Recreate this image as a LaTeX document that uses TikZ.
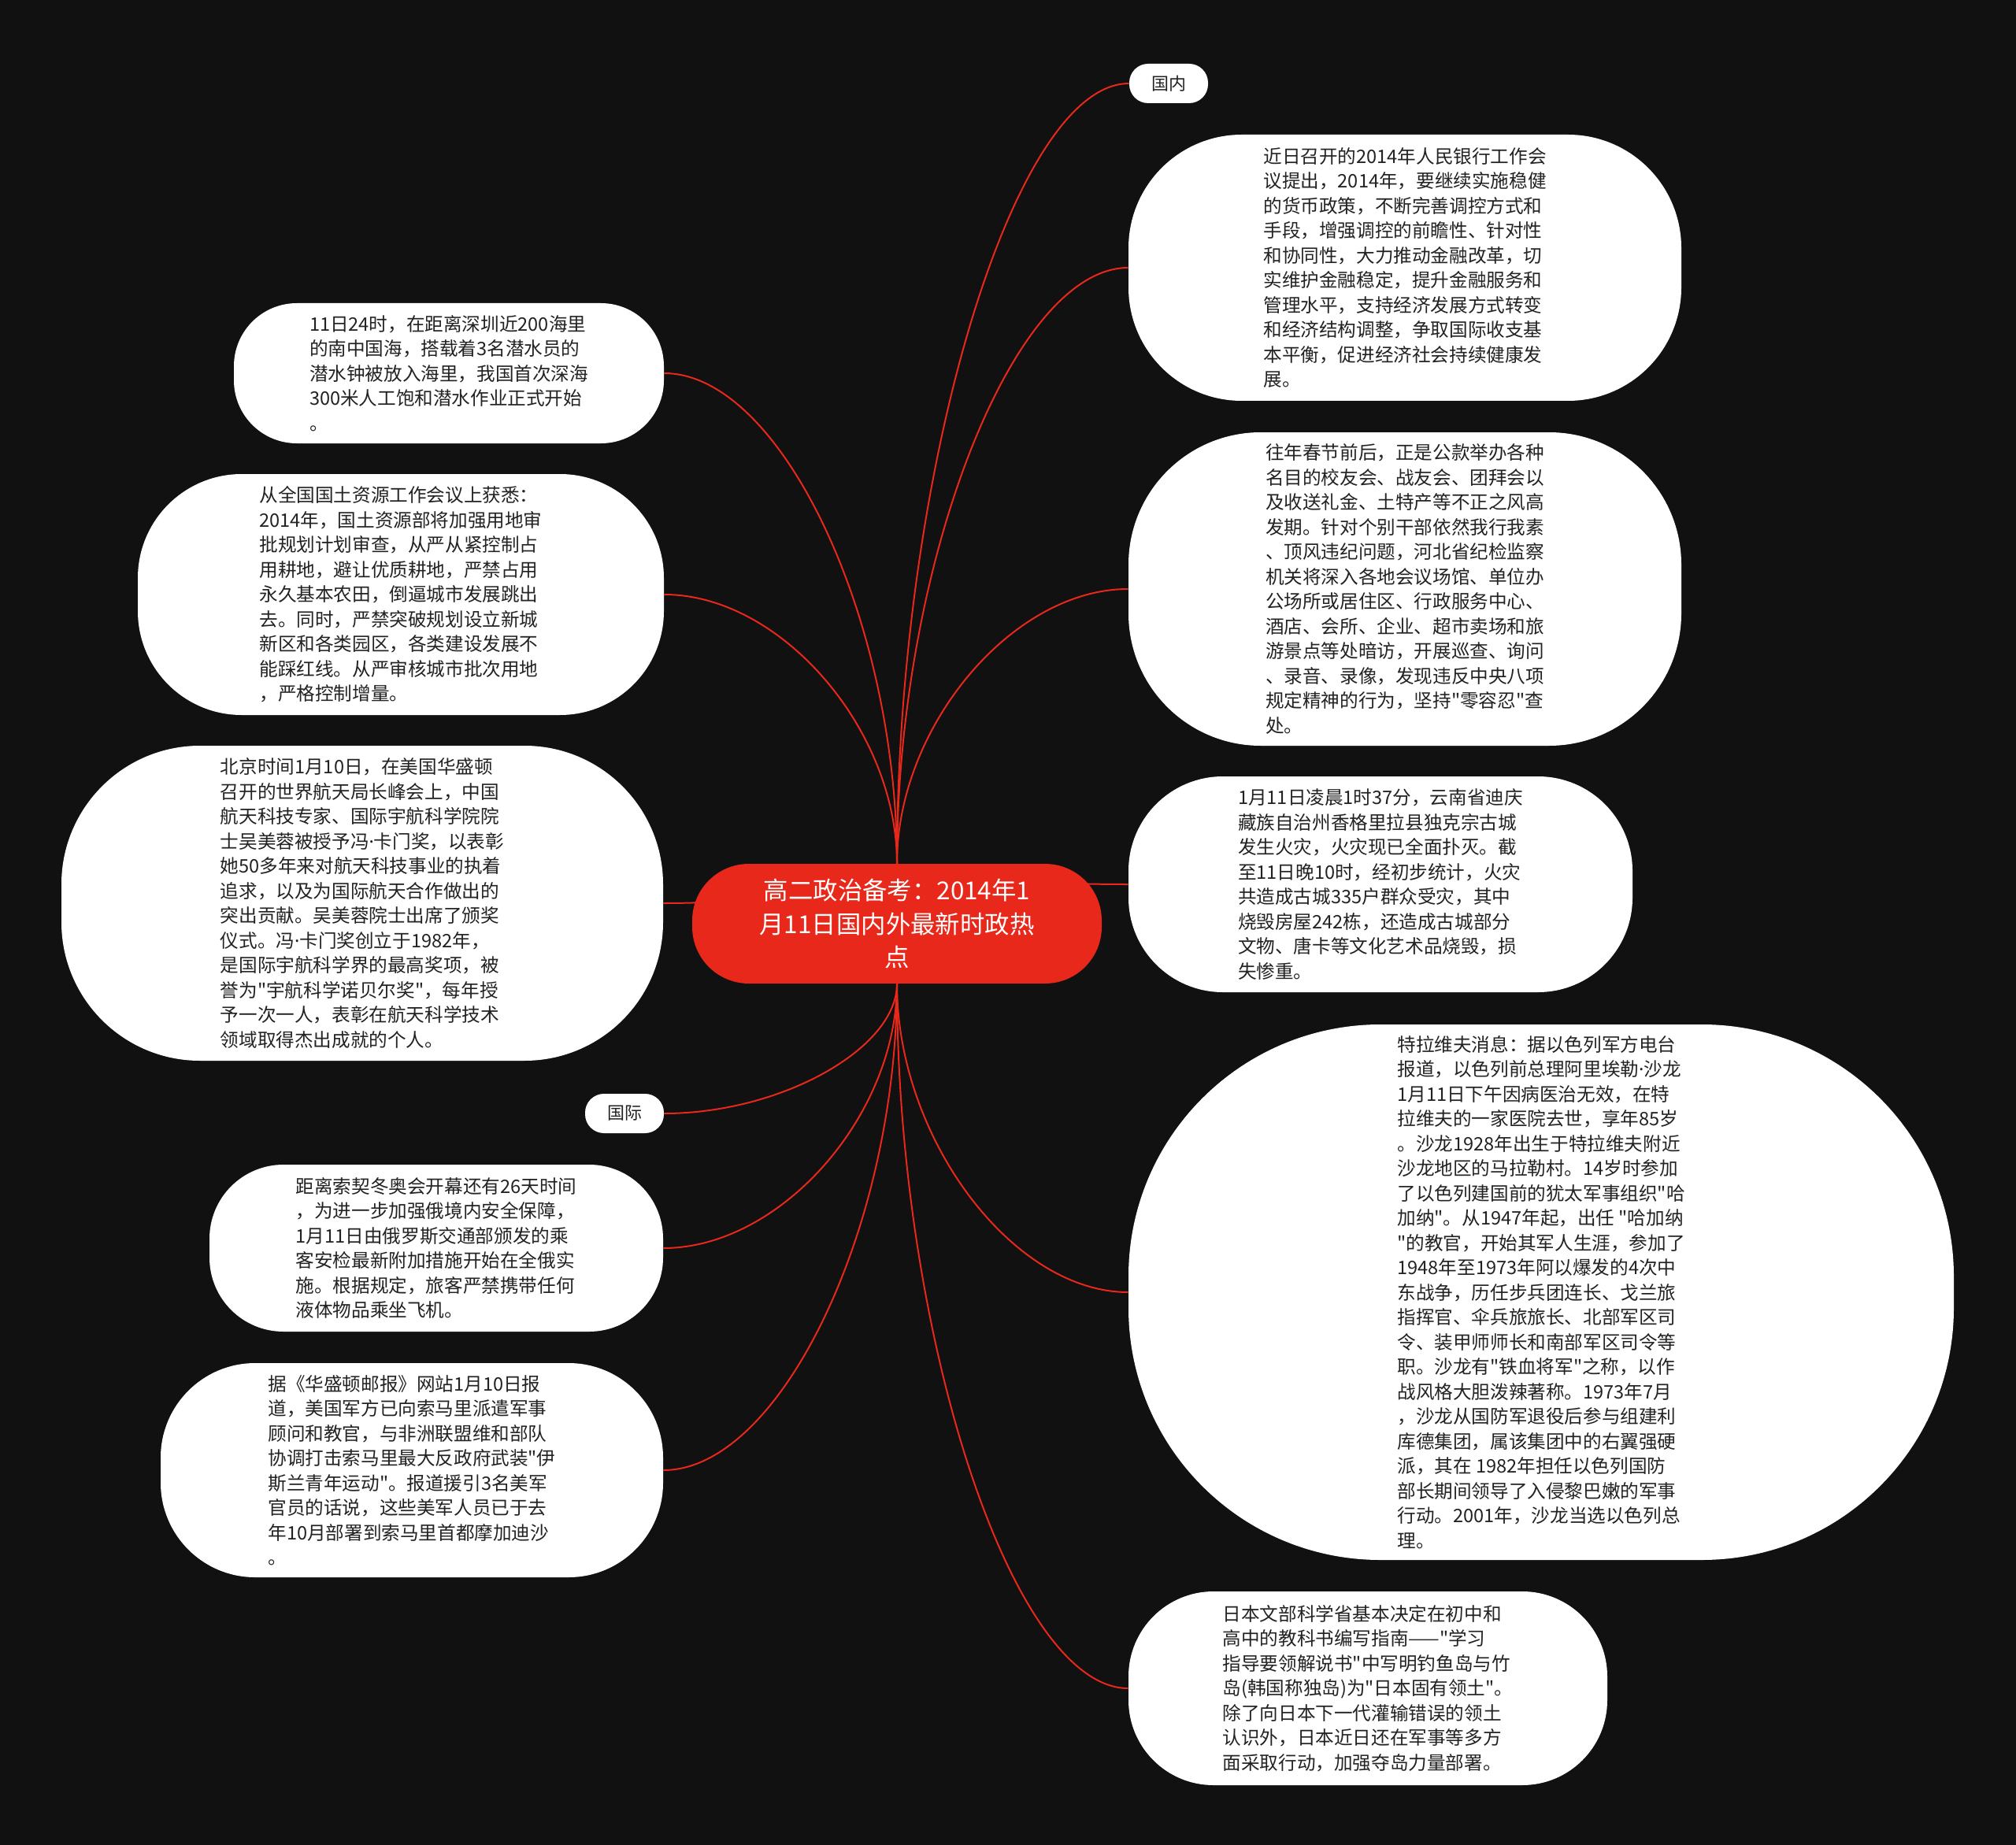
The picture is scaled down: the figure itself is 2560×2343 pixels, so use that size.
\documentclass[tikz,border=0pt]{standalone}
\usepackage{fontspec}
\newfontfamily\cjkfont{Noto Sans CJK SC}
\newfontfamily\latinfont{Noto Sans}
\usetikzlibrary{backgrounds, calc}
\definecolor{canvas}{RGB}{17,17,17}
\definecolor{hotred}{RGB}{232,40,26}
\definecolor{inktext}{RGB}{34,34,34}
\newcommand\middotsign{{\latinfont ·}}

\begin{document}
\begin{tikzpicture}[
    x=0.5pt, y=-0.5pt,
    topic/.style={rectangle, fill=hotred, text=white, align=center, inner sep=0pt, rounded corners=36pt, font=\cjkfont\fontsize{15.7pt}{21.2pt}\selectfont},
    leaf/.style={rectangle, fill=white, text=inktext, align=left, inner sep=0pt, rounded corners=#1, font=\cjkfont\fontsize{11.8pt}{15.75pt}\selectfont},
    tag/.style={rectangle, fill=white, text=inktext, inner sep=0pt, rounded corners=12pt, minimum width=50pt, minimum height=25pt, font=\cjkfont\fontsize{11pt}{13pt}\selectfont},
    branch/.style={draw=hotred, line width=1pt}
]
\useasboundingbox (0,0) rectangle (2560,2343);

% Centre
\node[topic, minimum width=260pt, minimum height=76pt] (topic) at (1139,1173) {高二政治备考：2014年1\\月11日国内外最新时政热\\点};

% Right side
\node[tag] (dom) at (1484,106) {国内};
\node[leaf=72pt, minimum width=351pt, minimum height=169pt] (bank) at (1784,340) {近日召开的2014年人民银行工作会\\议提出，2014年，要继续实施稳健\\的货币政策，不断完善调控方式和\\手段，增强调控的前瞻性、针对性\\和协同性，大力推动金融改革，切\\实维护金融稳定，提升金融服务和\\管理水平，支持经济发展方式转变\\和经济结构调整，争取国际收支基\\本平衡，促进经济社会持续健康发\\展。};
\node[leaf=84pt, minimum width=351pt, minimum height=199pt] (feast) at (1784,748) {往年春节前后，正是公款举办各种\\名目的校友会、战友会、团拜会以\\及收送礼金、土特产等不正之风高\\发期。针对个别干部依然我行我素\\、顶风违纪问题，河北省纪检监察\\机关将深入各地会议场馆、单位办\\公场所或居住区、行政服务中心、\\酒店、会所、企业、超市卖场和旅\\游景点等处暗访，开展巡查、询问\\、录音、录像，发现违反中央八项\\规定精神的行为，坚持"零容忍"查\\处。};
\node[leaf=60pt, minimum width=320pt, minimum height=137pt] (fire) at (1753,1123) {1月11日凌晨1时37分，云南省迪庆\\藏族自治州香格里拉县独克宗古城\\发生火灾，火灾现已全面扑灭。截\\至11日晚10时，经初步统计，火灾\\共造成古城335户群众受灾，其中\\烧毁房屋242栋，还造成古城部分\\文物、唐卡等文化艺术品烧毁，损\\失惨重。};
\node[leaf=160pt, minimum width=524pt, minimum height=340pt] (sharon) at (1957,1641) {特拉维夫消息：据以色列军方电台\\报道，以色列前总理阿里埃勒\middotsign 沙龙\\1月11日下午因病医治无效，在特\\拉维夫的一家医院去世，享年85岁\\。沙龙1928年出生于特拉维夫附近\\沙龙地区的马拉勒村。14岁时参加\\了以色列建国前的犹太军事组织"哈\\加纳"。从1947年起，出任 "哈加纳\\"的教官，开始其军人生涯，参加了\\1948年至1973年阿以爆发的4次中\\东战争，历任步兵团连长、戈兰旅\\指挥官、伞兵旅旅长、北部军区司\\令、装甲师师长和南部军区司令等\\职。沙龙有"铁血将军"之称，以作\\战风格大胆泼辣著称。1973年7月\\，沙龙从国防军退役后参与组建利\\库德集团，属该集团中的右翼强硬\\派，其在 1982年担任以色列国防\\部长期间领导了入侵黎巴嫩的军事\\行动。2001年，沙龙当选以色列总\\理。};
\node[leaf=54pt, minimum width=304pt, minimum height=123pt] (japan) at (1737,2144) {日本文部科学省基本决定在初中和\\高中的教科书编写指南——"学习\\指导要领解说书"中写明钓鱼岛与竹\\岛(韩国称独岛)为"日本固有领土"。\\除了向日本下一代灌输错误的领土\\认识外，日本近日还在军事等多方\\面采取行动，加强夺岛力量部署。};

% Left side
\node[leaf=40pt, minimum width=273pt, minimum height=89pt] (dive) at (570,474) {11日24时，在距离深圳近200海里\\的南中国海，搭载着3名潜水员的\\潜水钟被放入海里，我国首次深海\\300米人工饱和潜水作业正式开始\\。};
\node[leaf=66pt, minimum width=334pt, minimum height=153pt] (land) at (509,755) {从全国国土资源工作会议上获悉：\\2014年，国土资源部将加强用地审\\批规划计划审查，从严从紧控制占\\用耕地，避让优质耕地，严禁占用\\永久基本农田，倒逼城市发展跳出\\去。同时，严禁突破规划设立新城\\新区和各类园区，各类建设发展不\\能踩红线。从严审核城市批次用地\\，严格控制增量。};
\node[leaf=88pt, minimum width=382pt, minimum height=200pt] (award) at (460,1147) {北京时间1月10日，在美国华盛顿\\召开的世界航天局长峰会上，中国\\航天科技专家、国际宇航科学院院\\士吴美蓉被授予冯\middotsign 卡门奖，以表彰\\她50多年来对航天科技事业的执着\\追求，以及为国际航天合作做出的\\突出贡献。吴美蓉院士出席了颁奖\\仪式。冯\middotsign 卡门奖创立于1982年，\\是国际宇航科学界的最高奖项，被\\誉为"宇航科学诺贝尔奖"，每年授\\予一次一人，表彰在航天科学技术\\领域取得杰出成就的个人。};
\node[tag] (intl) at (793,1414) {国际};
\node[leaf=47pt, minimum width=288pt, minimum height=106pt] (sochi) at (554,1585) {距离索契冬奥会开幕还有26天时间\\，为进一步加强俄境内安全保障，\\1月11日由俄罗斯交通部颁发的乘\\客安检最新附加措施开始在全俄实\\施。根据规定，旅客严禁携带任何\\液体物品乘坐飞机。};
\node[leaf=60pt, minimum width=319pt, minimum height=136pt] (somalia) at (523,1867) {据《华盛顿邮报》网站1月10日报\\道，美国军方已向索马里派遣军事\\顾问和教官，与非洲联盟维和部队\\协调打击索马里最大反政府武装"伊\\斯兰青年运动"。报道援引3名美军\\官员的话说，这些美军人员已于去\\年10月部署到索马里首都摩加迪沙\\。};

% Branches
\begin{scope}[on background layer]
\fill[canvas] (0,0) rectangle (2560,2343);
\foreach \n/\a/\s in {dom/west/north, bank/west/north, feast/west/north, fire/west/north,
                      sharon/west/south, japan/west/south,
                      dive/east/north, land/east/north, award/east/north,
                      intl/east/south, sochi/east/south, somalia/east/south} {
  \coordinate (mid) at ($(topic.\s)!0.5!(\n.\a)$);
  \draw[branch] (topic.\s) .. controls (topic.\s |- mid) and (mid |- \n.\a) .. (\n.\a);
}
\end{scope}

\end{tikzpicture}
\end{document}
